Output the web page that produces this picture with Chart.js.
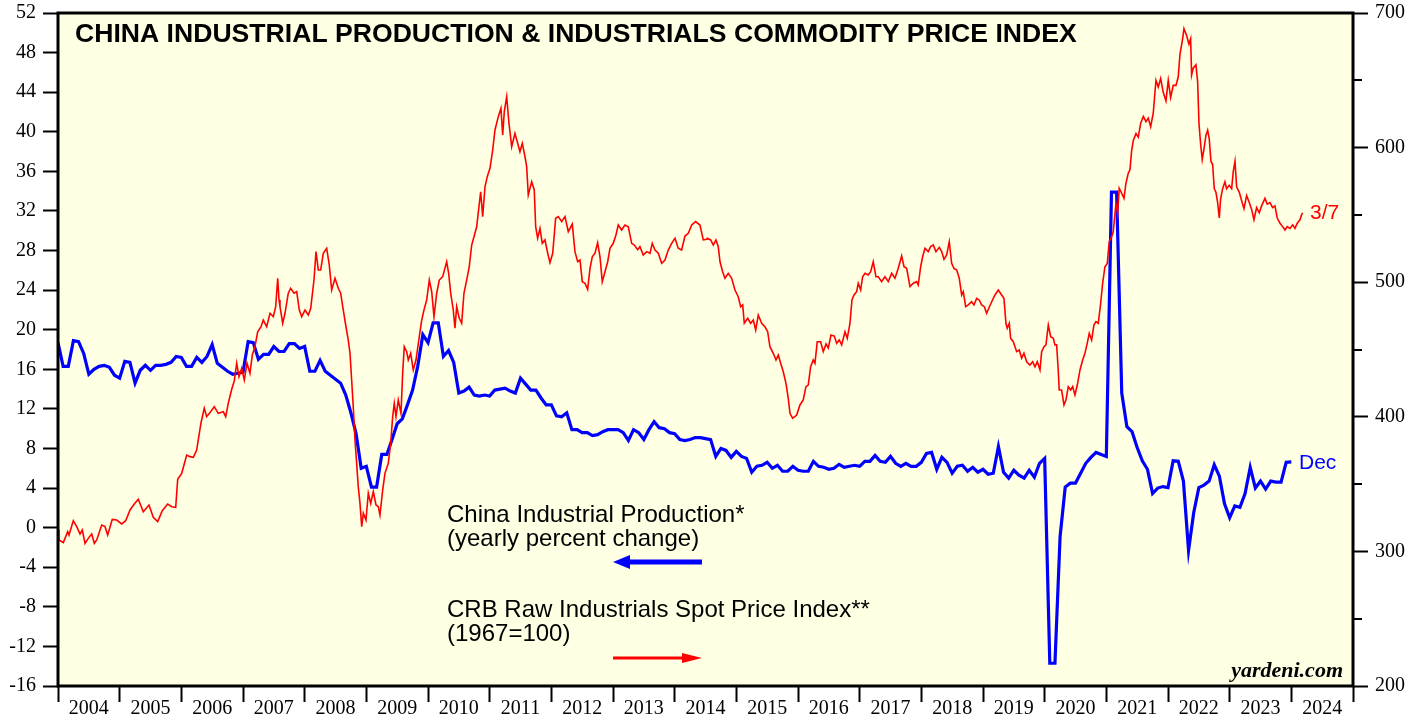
<!DOCTYPE html>
<html>
<head>
<meta charset="utf-8">
<title>China Industrial Production & CRB Raw Industrials</title>
<script src="https://cdn.jsdelivr.net/npm/chart.js@4.4.1/dist/chart.umd.min.js"></script>
<style>
  html, body { margin: 0; padding: 0; background: #ffffff; }
  #wrap { width: 1424px; height: 717px; }
</style>
</head>
<body>
<div id="wrap"><canvas id="chart" width="1424" height="717"></canvas></div>
<script>
const chartTitle = 'CHINA INDUSTRIAL PRODUCTION & INDUSTRIALS COMMODITY PRICE INDEX';
const years = [2004, 2005, 2006, 2007, 2008, 2009, 2010, 2011, 2012, 2013, 2014,
               2015, 2016, 2017, 2018, 2019, 2020, 2021, 2022, 2023, 2024];
const leftRange = [-16, 52];
const rightRange = [200, 700];

// China industrial production, yearly % change, monthly (month-end), first point at 2004.0
const ipStart = 2004;
const ipValues = [
  18.7, 16.3, 16.3, 18.9, 18.8, 17.6, 15.5, 16.0, 16.3, 16.4, 16.2, 15.4,
  15.1, 16.8, 16.7, 14.6, 15.9, 16.4, 15.9, 16.4, 16.4, 16.5, 16.7, 17.3,
  17.2, 16.3, 16.3, 17.2, 16.7, 17.3, 18.5, 16.6, 16.2, 15.8, 15.5, 15.6,
  15.7, 18.8, 18.7, 17.0, 17.5, 17.5, 18.3, 17.8, 17.8, 18.6, 18.6, 18.1,
  18.3, 15.8, 15.8, 16.9, 15.8, 15.4, 15.0, 14.6, 13.4, 11.6, 9.5, 6.0,
  6.2, 4.1, 4.1, 7.4, 7.4, 8.9, 10.5, 11.0, 12.4, 13.9, 16.3, 19.5,
  18.7, 20.7, 20.7, 17.3, 17.9, 16.7, 13.6, 13.8, 14.2, 13.4, 13.3, 13.4,
  13.3, 13.9, 14.0, 14.1, 13.8, 13.6, 15.1, 14.5, 13.9, 13.9, 13.1, 12.4,
  12.4, 11.3, 11.2, 11.6, 9.9, 9.9, 9.6, 9.6, 9.3, 9.4, 9.7, 9.9,
  9.9, 9.9, 9.6, 8.8, 9.9, 9.6, 8.9, 9.9, 10.7, 10.1, 10.0, 9.6,
  9.5, 8.9, 8.8, 8.9, 9.1, 9.1, 9.0, 8.9, 7.2, 8.0, 7.8, 7.1,
  7.7, 7.2, 7.0, 5.6, 6.2, 6.3, 6.6, 6.0, 6.3, 5.7, 5.7, 6.2,
  5.8, 5.7, 5.7, 6.7, 6.2, 6.1, 5.9, 6.0, 6.4, 6.1, 6.2, 6.3,
  6.2, 6.7, 6.7, 7.3, 6.7, 6.6, 7.2, 6.5, 6.2, 6.5, 6.2, 6.2,
  6.6, 7.5, 7.6, 5.9, 7.1, 6.6, 5.5, 6.2, 6.3, 5.7, 6.1, 5.6,
  5.9, 5.4, 5.5, 8.2, 5.6, 5.0, 5.8, 5.3, 5.0, 5.8, 5.1, 6.5,
  7.0, -13.7, -13.7, -0.9, 4.1, 4.5, 4.5, 5.5, 6.5, 7.1, 7.6, 7.4,
  7.2, 33.9, 33.9, 13.6, 10.2, 9.7, 8.1, 6.75, 5.9, 3.45, 4.0, 4.15,
  4.05, 6.75, 6.7, 4.7, -2.3, 1.5, 4.05, 4.3, 4.7, 6.35, 5.2, 2.4,
  1.0, 2.2, 2.05, 3.45, 6.1, 4.0, 4.7, 3.9, 4.7, 4.6, 4.6, 6.6,
  6.65
];

// CRB raw industrials spot price index (1967=100), dates as decimal years
const crbDates = [
  2004.005, 2004.016, 2004.086, 2004.157, 2004.178, 2004.248, 2004.303, 2004.357, 2004.394, 2004.438,
  2004.491, 2004.546, 2004.589, 2004.628, 2004.709, 2004.762, 2004.806, 2004.880, 2004.952, 2005.033,
  2005.098, 2005.168, 2005.237, 2005.302, 2005.383, 2005.476, 2005.545, 2005.617, 2005.691, 2005.779,
  2005.844, 2005.909, 2005.941, 2006.006, 2006.087, 2006.140, 2006.194, 2006.249, 2006.319, 2006.372,
  2006.411, 2006.465, 2006.534, 2006.599, 2006.680, 2006.719, 2006.761, 2006.817, 2006.859, 2006.898,
  2006.935, 2006.979, 2007.021, 2007.065, 2007.113, 2007.151, 2007.194, 2007.238, 2007.292, 2007.329,
  2007.384, 2007.438, 2007.491, 2007.530, 2007.563, 2007.584, 2007.600, 2007.644, 2007.681, 2007.734,
  2007.773, 2007.827, 2007.871, 2007.913, 2007.952, 2008.005, 2008.059, 2008.098, 2008.151, 2008.184,
  2008.221, 2008.260, 2008.302, 2008.357, 2008.399, 2008.438, 2008.492, 2008.545, 2008.584, 2008.626,
  2008.670, 2008.707, 2008.735, 2008.762, 2008.788, 2008.816, 2008.843, 2008.869, 2008.897, 2008.925,
  2008.951, 2008.994, 2009.032, 2009.071, 2009.113, 2009.157, 2009.194, 2009.221, 2009.265, 2009.302,
  2009.356, 2009.395, 2009.427, 2009.453, 2009.481, 2009.518, 2009.562, 2009.589, 2009.615, 2009.654,
  2009.680, 2009.719, 2009.761, 2009.805, 2009.859, 2009.898, 2009.935, 2009.979, 2010.021, 2010.060,
  2010.097, 2010.141, 2010.183, 2010.238, 2010.303, 2010.335, 2010.368, 2010.410, 2010.437, 2010.465,
  2010.507, 2010.546, 2010.583, 2010.627, 2010.669, 2010.708, 2010.746, 2010.789, 2010.854, 2010.887,
  2010.924, 2010.961, 2011.005, 2011.049, 2011.086, 2011.140, 2011.183, 2011.211, 2011.237, 2011.276,
  2011.313, 2011.357, 2011.410, 2011.454, 2011.491, 2011.529, 2011.573, 2011.600, 2011.626, 2011.681,
  2011.723, 2011.746, 2011.778, 2011.816, 2011.853, 2011.897, 2011.941, 2011.978, 2012.022, 2012.070,
  2012.113, 2012.168, 2012.221, 2012.275, 2012.340, 2012.383, 2012.427, 2012.465, 2012.502, 2012.546,
  2012.589, 2012.627, 2012.664, 2012.708, 2012.751, 2012.789, 2012.826, 2012.870, 2012.914, 2012.951,
  2013.004, 2013.048, 2013.085, 2013.140, 2013.194, 2013.248, 2013.303, 2013.345, 2013.400, 2013.437,
  2013.491, 2013.546, 2013.600, 2013.637, 2013.681, 2013.734, 2013.789, 2013.843, 2013.896, 2013.951,
  2014.005, 2014.058, 2014.113, 2014.167, 2014.221, 2014.276, 2014.340, 2014.410, 2014.464, 2014.519,
  2014.529, 2014.584, 2014.626, 2014.670, 2014.707, 2014.735, 2014.778, 2014.816, 2014.869, 2014.924,
  2014.978, 2015.031, 2015.070, 2015.103, 2015.129, 2015.184, 2015.232, 2015.275, 2015.314, 2015.356,
  2015.411, 2015.464, 2015.508, 2015.545, 2015.599, 2015.643, 2015.680, 2015.719, 2015.761, 2015.805,
  2015.842, 2015.870, 2015.913, 2015.978, 2016.032, 2016.085, 2016.129, 2016.166, 2016.205, 2016.247,
  2016.275, 2016.312, 2016.367, 2016.410, 2016.454, 2016.491, 2016.535, 2016.588, 2016.627, 2016.669,
  2016.708, 2016.762, 2016.799, 2016.843, 2016.875, 2016.908, 2016.951, 2016.977, 2017.016, 2017.048,
  2017.086, 2017.139, 2017.178, 2017.220, 2017.264, 2017.301, 2017.356, 2017.410, 2017.464, 2017.519,
  2017.572, 2017.626, 2017.681, 2017.719, 2017.762, 2017.816, 2017.870, 2017.924, 2017.950, 2017.989,
  2018.021, 2018.059, 2018.112, 2018.151, 2018.193, 2018.237, 2018.291, 2018.330, 2018.367, 2018.411,
  2018.453, 2018.492, 2018.529, 2018.573, 2018.615, 2018.654, 2018.680, 2018.719, 2018.761, 2018.816,
  2018.853, 2018.897, 2018.939, 2018.978, 2019.021, 2019.059, 2019.101, 2019.141, 2019.194, 2019.248,
  2019.302, 2019.340, 2019.372, 2019.393, 2019.426, 2019.448, 2019.491, 2019.546, 2019.588, 2019.627,
  2019.664, 2019.708, 2019.761, 2019.805, 2019.843, 2019.880, 2019.924, 2019.951, 2019.989, 2020.021,
  2020.059, 2020.098, 2020.140, 2020.167, 2020.194, 2020.220, 2020.236, 2020.275, 2020.313, 2020.345,
  2020.383, 2020.422, 2020.454, 2020.491, 2020.529, 2020.573, 2020.616, 2020.653, 2020.690, 2020.723,
  2020.762, 2020.799, 2020.831, 2020.869, 2020.908, 2020.940, 2020.977, 2021.015, 2021.047, 2021.086,
  2021.112, 2021.156, 2021.183, 2021.209, 2021.249, 2021.286, 2021.318, 2021.355, 2021.383, 2021.410,
  2021.437, 2021.481, 2021.518, 2021.557, 2021.600, 2021.643, 2021.680, 2021.719, 2021.761, 2021.805,
  2021.842, 2021.881, 2021.923, 2021.967, 2022.004, 2022.043, 2022.085, 2022.129, 2022.166, 2022.194,
  2022.237, 2022.259, 2022.302, 2022.340, 2022.367, 2022.383, 2022.409, 2022.453, 2022.481, 2022.502,
  2022.529, 2022.555, 2022.583, 2022.615, 2022.643, 2022.669, 2022.696, 2022.724, 2022.750, 2022.777,
  2022.805, 2022.831, 2022.853, 2022.886, 2022.923, 2022.951, 2022.993, 2023.032, 2023.058, 2023.086,
  2023.113, 2023.155, 2023.194, 2023.232, 2023.275, 2023.318, 2023.356, 2023.394, 2023.437, 2023.480,
  2023.518, 2023.572, 2023.609, 2023.653, 2023.697, 2023.734, 2023.772, 2023.816, 2023.859, 2023.897,
  2023.934, 2023.978, 2024.021, 2024.059, 2024.096, 2024.140, 2024.167, 2024.183
];
const crbValues = [
  316, 308.5, 306.5, 314.6, 312.2, 322.8, 318.4, 312.9, 315.9, 306,
  309.7, 312.9, 306, 308.5, 319.6, 318.4, 312.2, 323.8, 323.3, 320.4,
  322.8, 330.8, 335.2, 338.7, 329.5, 334.5, 325.3, 322.1, 330.2, 335.2,
  333.2, 332.7, 353.6, 358, 371.6, 370.4, 369.9, 375.3, 395.6, 406.3,
  400.1, 403.1, 407.5, 402.6, 403.8, 400.1, 410, 420.5, 426.8, 439.8,
  429.8, 436, 427.3, 439.8, 432.3, 445.9, 452.1, 463.2, 466.9, 471.9,
  466.9, 476.9, 474.4, 481.8, 502.9, 486.8, 481.8, 469.5, 476.9, 491.8,
  495.5, 491.8, 493, 479.3, 474.4, 479.3, 475.6, 480.6, 501.6, 522.7,
  509.1, 509.1, 521.5, 525.2, 512.8, 494.2, 502.9, 495.5, 491.8, 479.3,
  466.9, 457, 447.2, 427.3, 407.5, 382.8, 365.4, 348.1, 335.7, 318.4,
  328.4, 323.3, 343.2, 335.7, 344.4, 334.5, 333.2, 327, 345.6, 358,
  365.4, 380.3, 400.1, 410, 400.1, 412.5, 402.6, 432.3, 452.1, 448.4,
  442.2, 447.2, 434.8, 442.2, 459.5, 471.9, 479.3, 486.8, 501.6, 493,
  474.4, 491.8, 501.6, 504.1, 515.2, 506.6, 491.8, 479.3, 465.8, 481.8,
  473.2, 469.5, 491.8, 501.6, 511.5, 527.6, 533.8, 541.2, 567.2, 548.7,
  570.9, 578.4, 584.6, 598.2, 613.1, 623, 629.2, 609.4, 626.7, 637.8,
  618.1, 600.7, 610.6, 603.2, 597, 603.2, 593.2, 585.8, 564.8, 574.7,
  568.5, 541.2, 532.6, 540, 528.9, 531.4, 521.5, 514.5, 521.5, 547.5,
  548.7, 545, 548.7, 537.5, 543.2, 522.7, 515.2, 516.5, 500.4, 499.2,
  494.7, 510.3, 518.9, 521.5, 529.4, 518.9, 500.4, 507.8, 515.2, 525.2,
  528.9, 535.1, 542.5, 538.8, 542.5, 541.2, 528.9, 527.6, 524.2, 526.4,
  520.2, 522.7, 521.5, 528.9, 523.9, 521.5, 514, 516.5, 523.9, 528.9,
  532.6, 525.2, 523.9, 534.3, 536.3, 542.5, 545, 542.5, 531.4, 531.9,
  532.6, 531.4, 527.6, 531.4, 526.4, 515.2, 507.8, 502.9, 506.6, 502.9,
  494.2, 489.2, 481.8, 483.1, 469.5, 473.2, 469.5, 471.9, 464.5, 475.6,
  469.5, 466.9, 463.2, 452.1, 447.2, 442.2, 445.9, 439.8, 433.5, 424.9,
  413.7, 402.6, 398.9, 401.3, 408.8, 412.5, 422.4, 423.6, 437.2, 442.2,
  439.8, 455.8, 455.8, 448.4, 454.1, 451.1, 460.8, 460, 454.6, 457.1,
  453.4, 463.2, 458.3, 469.5, 486.8, 490.5, 493, 499.2, 494.2, 504.1,
  506.6, 505.3, 507.8, 515.2, 504.1, 504.1, 500.4, 504.1, 500.4, 506.6,
  502.9, 510.3, 519.5, 511.5, 510.3, 496.7, 499.2, 500.4, 497.9, 511.5,
  518.9, 525.2, 522.7, 526.4, 527.6, 522.7, 525.9, 522.7, 517, 520.2,
  530.1, 514, 510.3, 509.1, 502.9, 490.5, 493, 481.8, 483.1, 485.5,
  483.1, 488, 486.8, 483.1, 481.8, 476.9, 481.4, 485.5, 490.5, 494.2,
  490.5, 488, 469.5, 465.8, 469.5, 458.3, 455.8, 448.4, 449.6, 443.5,
  447.2, 440.9, 438.5, 440.9, 437.2, 440.9, 434.8, 448.4, 452.1, 453.4,
  468.2, 459.5, 458.3, 453.4, 453.4, 434.8, 419.9, 419.9, 408.8, 412.5,
  422.4, 419.9, 422.4, 416.2, 423.6, 434.8, 442.2, 447.2, 454.6, 462,
  457.1, 468.2, 470.7, 469.5, 484.3, 499.2, 511.5, 514, 530.1, 533.8,
  537.5, 558.6, 551.2, 569.8, 566.1, 562.3, 573.5, 580.9, 583.5, 597.5,
  605.3, 610.4, 607.8, 618.1, 623.2, 619.3, 621.9, 615.5, 625.7, 650,
  645, 651.3, 641.1, 634.7, 650, 637.2, 646.2, 646.2, 652.6, 669.2,
  680.8, 688.4, 683.3, 676.9, 680.8, 653.9, 659, 661.5, 648.7, 618.1,
  602.7, 591.2, 598.9, 609.1, 612.9, 606.5, 589.9, 587.4, 569.5, 566.9,
  559.2, 547.7, 561.7, 569.5, 574.6, 569.5, 572, 569.5, 582.2, 589.9,
  570.7, 566.9, 560.5, 554.6, 564.3, 559.2, 554.1, 546.4, 555.4, 551.6,
  556.7, 562.3, 558, 559.2, 555.4, 556.7, 547.7, 543.8, 541.3, 538.8,
  541.3, 540, 542.6, 540, 543.8, 546.4, 550.2, 551.6
];

const BLUE = '#0000ff';
const RED = '#ff0000';
const PLOT_BG = '#ffffe3';
const SERIF = '"Liberation Serif", "Times New Roman", serif';
const SANS = '"Liberation Sans", Arial, sans-serif';

const ipPoints = ipValues.map((v, i) => ({ x: ipStart + i / 12, y: v }));
const crbPoints = crbDates.map((d, i) => ({ x: d, y: crbValues[i] }));

function arrow(ctx, x1, x2, y, width, headLen, headHalf, color) {
    // shaft from x1 to the base of the head, head pointing at x2
    const dir = x2 > x1 ? 1 : -1;
    ctx.strokeStyle = color;
    ctx.fillStyle = color;
    ctx.lineWidth = width;
    ctx.beginPath();
    ctx.moveTo(x1, y);
    ctx.lineTo(x2 - dir * headLen * 0.8, y);
    ctx.stroke();
    ctx.beginPath();
    ctx.moveTo(x2, y);
    ctx.lineTo(x2 - dir * headLen, y - headHalf);
    ctx.lineTo(x2 - dir * headLen, y + headHalf);
    ctx.closePath();
    ctx.fill();
}

// keep the plot frame where the original sits, labels may overhang
function fixVertical(width) {
    return (scale) => {
        scale.width = width;
        scale.paddingTop = 0;
        scale.paddingBottom = 0;
    };
}

const decorations = {
    id: 'decorations',
    beforeDraw(chart) {
        const { ctx, chartArea: a } = chart;
        ctx.save();
        ctx.fillStyle = PLOT_BG;
        ctx.fillRect(a.left, a.top, a.right - a.left, a.bottom - a.top);
        ctx.restore();
    },
    afterDraw(chart) {
        const { ctx, chartArea: a } = chart;
        const right = chart.scales.y1;
        ctx.save();

        // minor ticks on the right axis
        ctx.strokeStyle = '#000';
        ctx.lineWidth = 2;
        for (let v = rightRange[0] + 50; v < rightRange[1]; v += 100) {
            const py = Math.round(right.getPixelForValue(v));
            ctx.beginPath();
            ctx.moveTo(a.right, py);
            ctx.lineTo(a.right + 9, py);
            ctx.stroke();
        }

        // frame
        ctx.lineWidth = 3;
        ctx.strokeRect(a.left, a.top, a.right - a.left, a.bottom - a.top);

        // title
        ctx.fillStyle = '#000';
        ctx.font = 'bold 26.6px ' + SANS;
        ctx.textBaseline = 'alphabetic';
        ctx.textAlign = 'left';
        ctx.fillText(chartTitle, a.left + 17, a.top + 29);

        // series notes
        ctx.font = '24px ' + SANS;
        ctx.fillStyle = '#000';
        ctx.fillText('China Industrial Production*', 447, 522);
        ctx.fillText('(yearly percent change)', 447, 546);
        ctx.fillText('CRB Raw Industrials Spot Price Index**', 447, 617);
        ctx.fillText('(1967=100)', 447, 641);
        arrow(ctx, 702, 613, 562, 5, 17, 7, BLUE);
        arrow(ctx, 613, 702, 658, 3, 20, 5, RED);

        // end labels
        ctx.font = '21px ' + SANS;
        ctx.textBaseline = 'middle';
        ctx.fillStyle = RED;
        ctx.fillText('3/7', 1310, 213);
        ctx.fillStyle = BLUE;
        ctx.fillText('Dec', 1299, 463);

        // credit
        ctx.fillStyle = '#000';
        ctx.font = 'italic bold 22px ' + SERIF;
        ctx.textAlign = 'right';
        ctx.textBaseline = 'alphabetic';
        ctx.fillText('yardeni.com', a.right - 10, a.bottom - 9);
        ctx.restore();
    }
};

const ctx = document.getElementById('chart').getContext('2d');
new Chart(ctx, {
    type: 'line',
    data: {
        datasets: [
            {
                label: 'CRB Raw Industrials Spot Price Index',
                data: crbPoints,
                yAxisID: 'y1',
                borderColor: RED,
                borderWidth: 1.6,
                pointRadius: 0,
                tension: 0,
                order: 1
            },
            {
                label: 'China Industrial Production',
                data: ipPoints,
                yAxisID: 'y',
                borderColor: BLUE,
                borderWidth: 3.2,
                pointRadius: 0,
                tension: 0,
                order: 2
            }
        ]
    },
    options: {
        responsive: false,
        animation: false,
        devicePixelRatio: 1,
        layout: { padding: { top: 13, left: 0, right: 0, bottom: 0 } },
        plugins: {
            legend: { display: false },
            tooltip: { enabled: false },
            title: { display: false }
        },
        scales: {
            x: {
                type: 'linear',
                min: years[0],
                max: years[years.length - 1] + 1,
                afterBuildTicks: (scale) => {
                    const t = [];
                    years.forEach(y => { t.push({ value: y }); t.push({ value: y + 0.5 }); });
                    t.push({ value: years[years.length - 1] + 1 });
                    scale.ticks = t;
                },
                afterFit: (scale) => {
                    scale.height = 31;
                    scale.paddingLeft = 0;
                    scale.paddingRight = 0;
                },
                border: { display: false },
                grid: {
                    drawOnChartArea: false,
                    drawTicks: true,
                    tickLength: 16,
                    tickWidth: 2,
                    tickColor: (c) => (c.tick && c.tick.value % 1 === 0) ? '#000' : 'rgba(0,0,0,0)'
                },
                ticks: {
                    autoSkip: false,
                    maxRotation: 0,
                    padding: -5,
                    color: '#000',
                    font: { family: SERIF, size: 20 },
                    callback: (v) => (v % 1 === 0.5) ? String(Math.floor(v)) : ''
                }
            },
            y: {
                position: 'left',
                min: leftRange[0],
                max: leftRange[1],
                afterFit: fixVertical(58),
                border: { display: false },
                grid: {
                    drawOnChartArea: false,
                    drawTicks: true,
                    tickLength: 15,
                    tickWidth: 2,
                    tickColor: '#000'
                },
                ticks: {
                    stepSize: 4,
                    padding: 7,
                    color: '#000',
                    font: { family: SERIF, size: 20 }
                }
            },
            y1: {
                position: 'right',
                min: rightRange[0],
                max: rightRange[1],
                afterFit: fixVertical(71),
                border: { display: false },
                grid: {
                    drawOnChartArea: false,
                    drawTicks: true,
                    tickLength: 15,
                    tickWidth: 2,
                    tickColor: '#000'
                },
                ticks: {
                    stepSize: 100,
                    padding: 7,
                    color: '#000',
                    font: { family: SERIF, size: 20 }
                }
            }
        }
    },
    plugins: [decorations]
});
</script>
</body>
</html>
